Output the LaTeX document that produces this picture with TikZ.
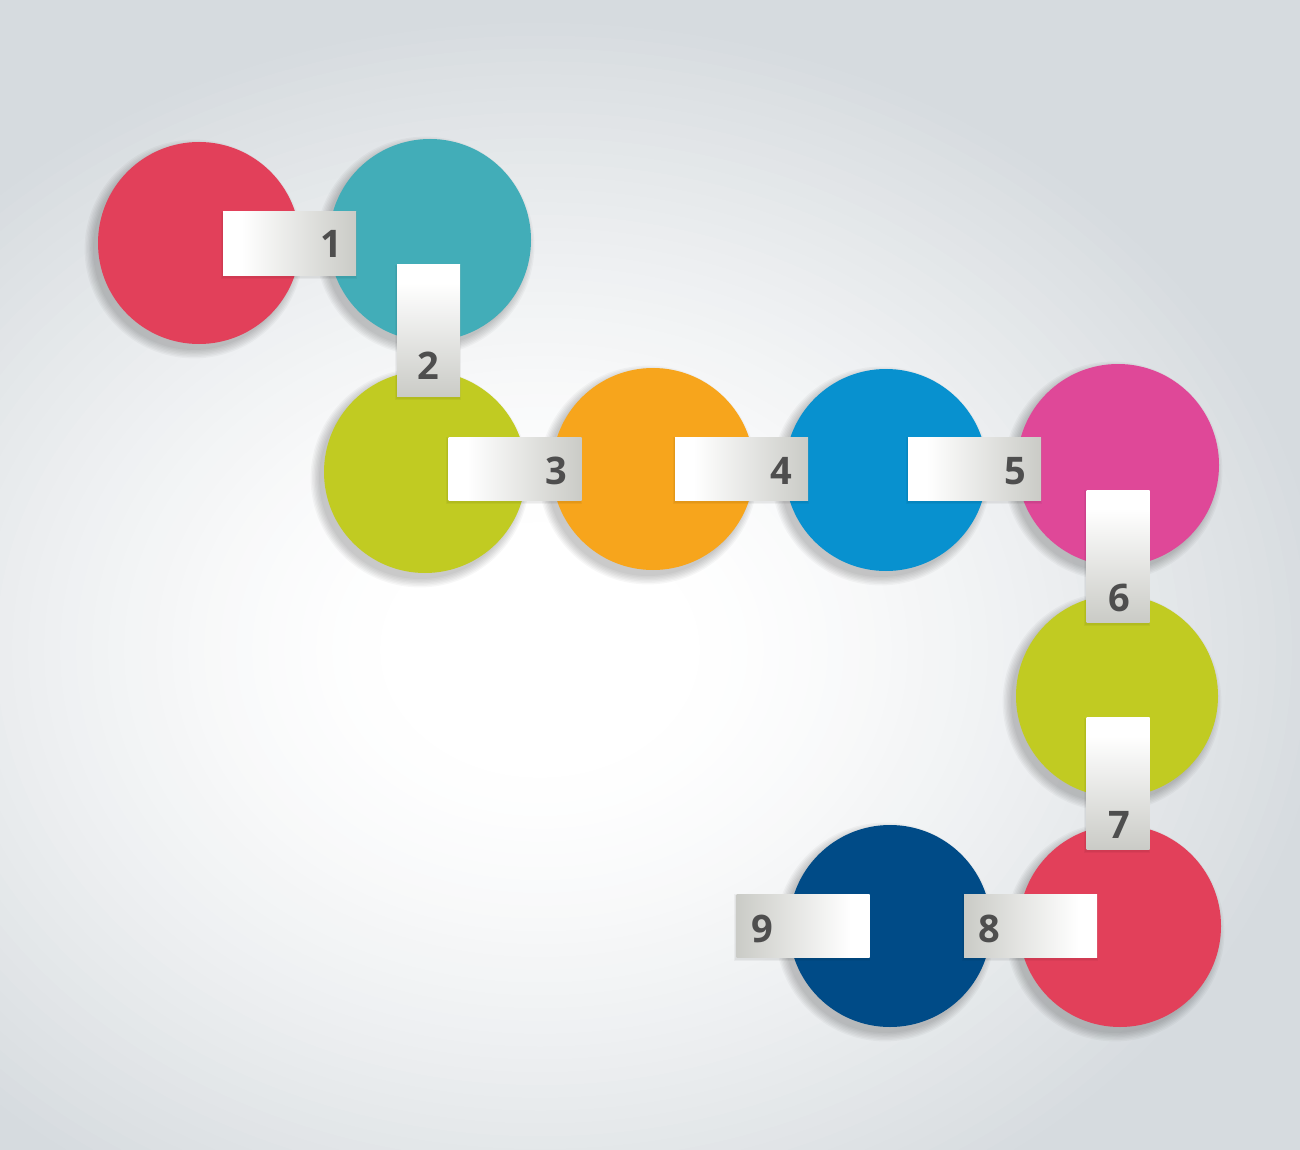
\documentclass[tikz,border=0pt]{standalone}
\usepackage{fontspec}
\setmainfont{Open Sans}
\usetikzlibrary{calc}
\definecolor{bggray}{HTML}{D6DBDF}
\definecolor{labgray}{HTML}{C9CAC5}
\definecolor{numgray}{HTML}{4E4E4E}
\definecolor{cred}{HTML}{E2405A}
\definecolor{cteal}{HTML}{42ADB8}
\definecolor{clime}{HTML}{C1CB22}
\definecolor{corange}{HTML}{F7A51C}
\definecolor{cblue}{HTML}{0891CF}
\definecolor{cmagenta}{HTML}{DF4898}
\definecolor{cnavy}{HTML}{004B87}
\pgfdeclarehorizontalshading{labshade}{100bp}{color(0bp)=(white); color(32bp)=(white); color(76bp)=(labgray); color(100bp)=(labgray)}
\begin{document}
\begin{tikzpicture}[x=1pt,y=-1pt,
  disc/.style={circle, minimum size=202pt, inner sep=0pt, draw=none, fill=#1},
  tag/.style={inner sep=0pt, shade, shading=labshade},
  htag/.style={tag, minimum width=133pt, minimum height=63pt},
  vtag/.style={tag, minimum width=63pt, minimum height=132pt},
  num/.style={text=numgray, font=\fontsize{38}{40}\selectfont\bfseries, inner sep=0pt, anchor=center}]
% background
\begin{scope}
\clip (0,0) rectangle (1300,1150);
\fill[bggray] (0,0) rectangle (1300,1150);
\foreach \i in {0,...,44}{
  \pgfmathsetmacro{\t}{1-\i*0.02}
  \pgfmathsetmacro{\p}{100*(max(0,min(1,(\t-0.18)/0.82)))^1.4}
  \fill[bggray!\p!white] (540,650) ellipse [x radius=800*\t, y radius=640*\t];
}
\end{scope}
\useasboundingbox (0,0) rectangle (1300,1150);
% disc shadows
\foreach \cx/\cy in {199/243, 430/240, 425/472, 653/469, 886/470, 1118/465, 1117/696, 1120/926, 890/926}{
  \foreach \k in {12,10,...,0}{
    \fill[black, opacity=0.03] (\cx-5,\cy+6) circle [radius=101+\k*0.7];
  }
}
% discs
\node[disc=cred] (c1) at (199,243) {};
\node[disc=cteal] (c2) at (430,240) {};
\node[disc=clime] (c3) at (425,472) {};
\node[disc=corange] (c4) at (653,469) {};
\node[disc=cblue] (c5) at (886,470) {};
\node[disc=cmagenta] (c6) at (1118,465) {};
\node[disc=clime] (c7) at (1117,696) {};
\node[disc=cred] (c8) at (1120,926) {};
\node[disc=cnavy] (c9) at (890,926) {};
% tag shadows
\foreach \x/\y/\w/\h in {289.5/243.5/133/63, 428.5/330.5/63/132, 515/468.5/133/63, 741.5/468.5/133/63, 974.5/468.5/133/63, 1118/556/63/132, 1118/783.5/63/132, 1030.5/925.5/133/63, 803/925.5/133/63}{
  \foreach \k in {2,0}{
    \fill[black, opacity=0.04] (\x-\w/2-1.5-\k*0.5,\y-\h/2+1-\k*0.5) rectangle (\x+\w/2-0.5+\k*0.5,\y+\h/2+2.5+\k*0.5);
  }
}
% tags
\node[htag, shading angle=0] (t1) at (289.5,243.5) {};
\node[vtag, shading angle=-90] (t2) at (428.5,330.5) {};
\node[htag, shading angle=0] (t3) at (515,468.5) {};
\node[htag, shading angle=0] (t4) at (741.5,468.5) {};
\node[htag, shading angle=0] (t5) at (974.5,468.5) {};
\node[vtag, shading angle=-90] (t6) at (1118,556) {};
\node[vtag, shading angle=-90] (t7) at (1118,783.5) {};
\node[htag, shading angle=180] (t8) at (1030.5,925.5) {};
\node[htag, shading angle=180] (t9) at (803,925.5) {};
% numbers
\node[num] (n1) at (331,244) {1};
\node[num] (n2) at (428,366) {2};
\node[num] (n3) at (556,471) {3};
\node[num] (n4) at (781,471) {4};
\node[num] (n5) at (1015,471) {5};
\node[num] (n6) at (1119,598) {6};
\node[num] (n7) at (1119,825) {7};
\node[num] (n8) at (989,929) {8};
\node[num] (n9) at (762,929) {9};
\end{tikzpicture}
\end{document}
